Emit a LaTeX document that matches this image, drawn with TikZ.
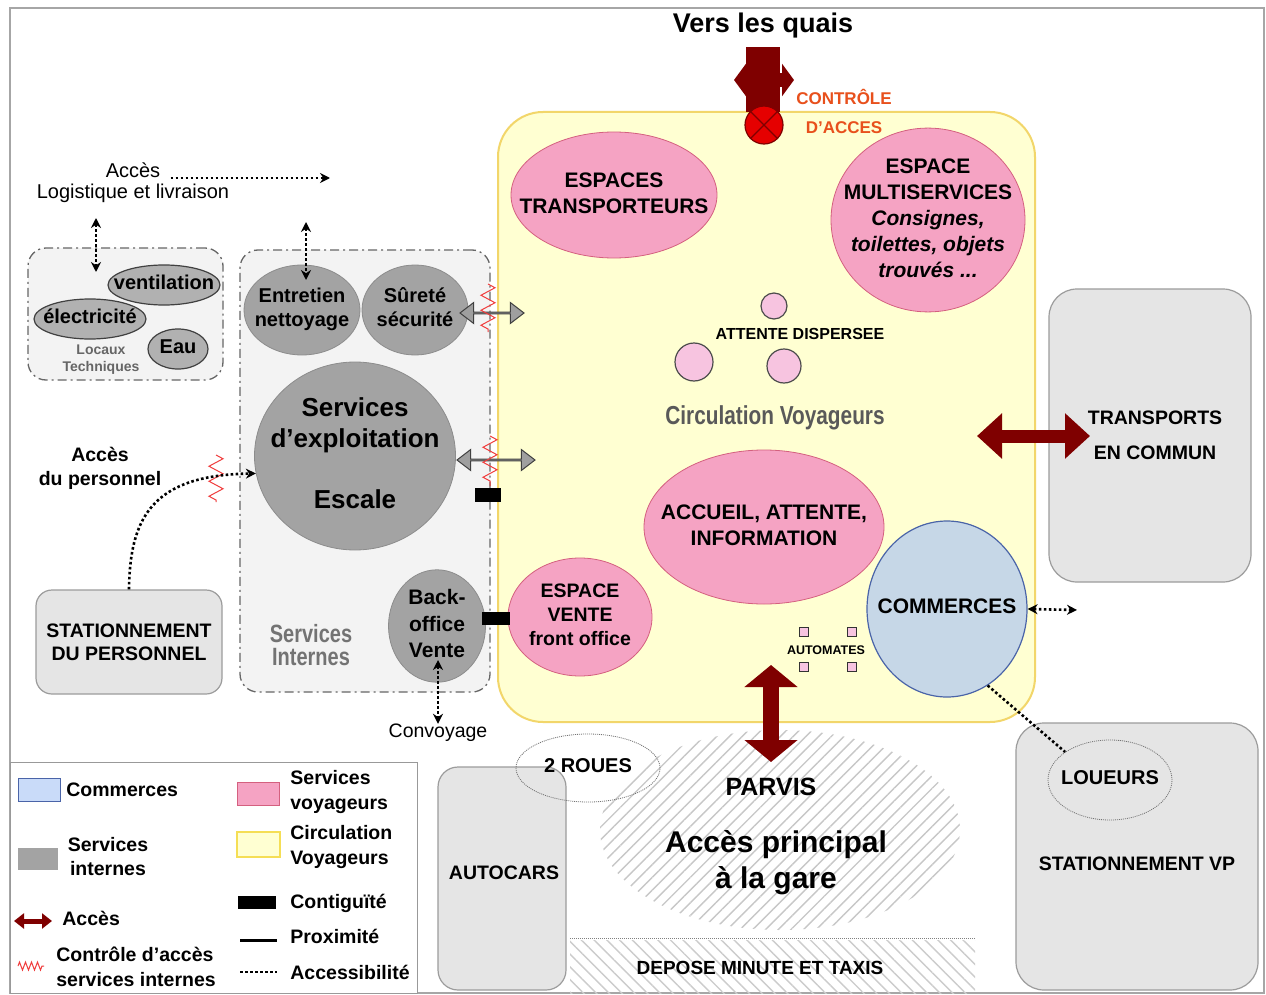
\documentclass[tikz,border=0pt]{standalone}
\usepackage{fontspec}
\setmainfont{Liberation Sans}
\newfontfamily\narrowfont[FakeStretch=0.8]{Liberation Sans}
\usetikzlibrary{shapes.geometric,shapes.arrows,arrows.meta,decorations.pathmorphing,patterns.meta}
\definecolor{voyfill}{HTML}{F5A3C3}
\definecolor{voydraw}{HTML}{D4607F}
\definecolor{circfill}{HTML}{FFFFD2}
\definecolor{circdraw}{HTML}{F2D66A}
\definecolor{intfill}{HTML}{A3A3A3}
\definecolor{intbg}{HTML}{F3F3F3}
\definecolor{extfill}{HTML}{E5E5E5}
\definecolor{extdraw}{HTML}{9C9C9C}
\definecolor{comfill}{HTML}{C6D7E7}
\definecolor{comdraw}{HTML}{4A64A8}
\definecolor{comleg}{HTML}{C9DBF9}
\definecolor{accred}{HTML}{7F0000}
\definecolor{ctrlred}{HTML}{F03C3C}
\definecolor{orangetxt}{HTML}{E8501C}
\definecolor{attfill}{HTML}{F7C4E0}
\newcommand{\fsz}[2]{\fontsize{#1}{#2}\selectfont}
\newcommand{\zbox}[1]{\makebox[0pt]{\begin{tabular}{@{}c@{}}#1\end{tabular}}}
\tikzstyle{lbl}=[inner sep=0pt, align=center, font=\bfseries\fsz{19.5}{24}]
\tikzstyle{legtxt}=[inner sep=0pt, anchor=west, align=left, font=\bfseries\fsz{19.5}{24.5}]
\tikzstyle{voy}=[ellipse, draw=voydraw, fill=voyfill, inner sep=0pt, font=\bfseries\fsz{21}{26}]
\tikzstyle{int}=[ellipse, draw=black!45, fill=intfill, inner sep=0pt, font=\bfseries\fsz{20}{24}]
\tikzstyle{tech}=[ellipse, draw=black!75, fill=intfill!85, line width=1.2pt, inner sep=0pt, font=\bfseries\fsz{20}{24}]
\tikzstyle{com}=[ellipse, draw=comdraw, fill=comfill, line width=1.2pt, inner sep=0pt, font=\bfseries\fsz{21}{24}]
\tikzstyle{ext}=[rectangle, rounded corners=28pt, draw=extdraw, fill=extfill, line width=1.2pt, align=center, font=\bfseries\fsz{19.5}{23}]
\tikzstyle{zone}=[rectangle, rounded corners=18pt, draw=black!60, fill=intbg, line width=1.3pt, dash pattern=on 9pt off 4pt on 2pt off 4pt]
\tikzstyle{circ}=[rectangle, rounded corners=45pt, draw=circdraw, fill=circfill, line width=2pt]
\tikzstyle{dotell}=[ellipse, draw=black!55, line width=0.8pt, dash pattern=on 1pt off 1pt, inner sep=0pt, font=\bfseries\fsz{20}{24}]
\tikzstyle{att}=[circle, draw=black!70, fill=attfill, line width=1.2pt, inner sep=0pt]
\tikzstyle{autom}=[rectangle, draw=black!80, fill=attfill, line width=1.2pt, minimum size=9pt, inner sep=0pt]
\tikzstyle{contig}=[rectangle, fill=black, inner sep=0pt]
\tikzstyle{gdbl}=[double arrow, draw=black!75, fill=gray!75, line width=1pt, inner sep=0pt, minimum width=21pt, double arrow head extend=6pt, double arrow tip angle=75]
\tikzstyle{acces}=[draw=accred, line width=16pt, {Triangle[length=22pt,width=52pt]}-{Triangle[length=22pt,width=52pt]}]
\tikzstyle{acc}=[line width=2.6pt, dash pattern=on 2.6pt off 2.4pt, >={Stealth[length=10pt,width=10pt]}]
\tikzstyle{ctrl}=[draw=ctrlred, line width=1pt, decorate, decoration={zigzag, segment length=15pt, amplitude=7pt}]
\begin{document}
\begin{tikzpicture}[x=1pt, y=-1pt, thick]
\useasboundingbox (0,0) rectangle (1266,995);
\fill[white] (0,0) rectangle (1266,995);
\draw[black!35, line width=1.5pt] (10,8) rectangle (1264,993);

\node[zone, minimum width=195pt, minimum height=132pt] (tech) at (125.5,314) {};
\node[zone, minimum width=250pt, minimum height=442pt] (sint) at (365,471) {};
\node[circ, minimum width=537pt, minimum height=610pt] (circ) at (766.5,417) {};

\node[ext, minimum width=202pt, minimum height=293pt] (tc) at (1150,435.5) {};
\node[lbl] (tct) at (1155,435.5) {TRANSPORTS\\[11pt]EN COMMUN};
\node[ext, minimum width=242pt, minimum height=267pt] (vp) at (1137,856.5) {};
\node[lbl] (vpt) at (1137,864) {STATIONNEMENT VP};
\node[ext, rounded corners=20pt, minimum width=128pt, minimum height=223pt] (car) at (502,878.5) {};
\node[lbl] (cart) at (504,873) {AUTOCARS};
\node[ext, rounded corners=16pt, minimum width=186pt, minimum height=104pt] (stp) at (129,642) {STATIONNEMENT\\DU PERSONNEL};

\node[ellipse, minimum width=360pt, minimum height=200pt, pattern={Lines[angle=45,distance=9pt,line width=1.4pt]}, pattern color=black!22] (parvis) at (780,830) {};
\node[lbl, font=\bfseries\fsz{25}{28}] (parvt) at (771,787) {PARVIS};
\node[lbl, font=\bfseries\fsz{30}{36}] (gare) at (776,863) {Accès principal\\à la gare};
\path[pattern={Lines[angle=-45,distance=9pt,line width=1.4pt]}, pattern color=black!20] (570,940) rectangle (975,993);
\draw[black!50, line width=0.8pt, dash pattern=on 1pt off 1pt] (570,938) -- (975,938);
\node[lbl, font=\bfseries\fsz{19}{22}] (dep) at (760,968) {DEPOSE MINUTE ET TAXIS};
\node[dotell, minimum width=144pt, minimum height=68pt] (roues) at (588,768) {\zbox{2 ROUES}};
\node[dotell, minimum width=124pt, minimum height=80pt] (loueurs) at (1110,780) {\zbox{LOUEURS}};

\node[tech, minimum width=112pt, minimum height=40pt] (vent) at (164,285) {\zbox{ventilation}};
\node[tech, minimum width=112pt, minimum height=40pt] (elec) at (90,319) {\zbox{électricité}};
\node[tech, minimum width=60pt, minimum height=40pt] (eau) at (178,349) {\zbox{Eau}};
\node[lbl, text=black!60, font=\bfseries\fsz{14}{17}] (loc) at (101,360) {Locaux\\Techniques};

\node[int, minimum width=116pt, minimum height=90pt] (entr) at (302,310) {\zbox{Entretien\\nettoyage}};
\node[int, minimum width=106pt, minimum height=90pt] (sur) at (415,310) {\zbox{Sûreté\\sécurité}};
\node[int, minimum width=201pt, minimum height=188pt, font=\bfseries\fsz{26}{31}] (esc) at (355,456) {\zbox{Services\\d’exploitation\\[30pt]Escale}};
\node[int, minimum width=97pt, minimum height=100pt, font=\bfseries\fsz{21}{26.5}] (bo) at (437,626) {\zbox{Back-\\office\\Vente}};
\node[lbl, text=black!55, font=\narrowfont\bfseries\fsz{25}{23}] (sintt) at (311,645) {Services\\Internes};

\node[voy, minimum width=206pt, minimum height=126pt] (transp) at (614,195) {\zbox{ESPACES\\TRANSPORTEURS}};
\node[voy, minimum width=194pt, minimum height=180pt] (multi) at (928,220) {\zbox{ESPACE\\MULTISERVICES\\\textit{Consignes,}\\\textit{toilettes, objets}\\\textit{trouvés ...}}};
\node[voy, minimum width=240pt, minimum height=154pt] (accueil) at (764,527) {\zbox{ACCUEIL, ATTENTE,\\INFORMATION}};
\node[voy, minimum width=144pt, minimum height=118pt, font=\bfseries\fsz{19.5}{24}] (vente) at (580,617) {\zbox{ESPACE\\VENTE\\front office}};
\node[com, minimum width=160pt, minimum height=176pt] (com) at (947,609) {\zbox{COMMERCES}};

\node[att, minimum size=26pt] (a1) at (774,306) {};
\node[att, minimum size=38pt] (a2) at (694,362) {};
\node[att, minimum size=34pt] (a3) at (784,366) {};
\node[lbl, font=\bfseries\fsz{16}{18}] (att) at (800,334) {ATTENTE DISPERSEE};
\node[lbl, text=black!65, font=\narrowfont\bfseries\fsz{26}{28}] (cv) at (775,418) {Circulation Voyageurs};
\foreach \x in {804,852}
  \foreach \y in {632,667}
    \node[autom] at (\x,\y) {};
\node[lbl, font=\bfseries\fsz{12.5}{14}] (auto) at (826,650) {AUTOMATES};

\node[lbl, font=\bfseries\fsz{27}{30}] (quais) at (763,26) {Vers les quais};
\fill[accred] (746,47) rectangle (780,112);
\coordinate (q1) at (734,80);
\coordinate (q2) at (794,80);
\draw[accred, line width=14pt, {Triangle[length=12pt,width=32pt]}-{Triangle[length=12pt,width=32pt]}] (q1) -- (q2);
\node[circle, fill=red!90!black, draw=accred, line width=1.2pt, minimum size=38pt] (ctl) at (764,125) {};
\draw[accred, line width=1.2pt] (ctl.45) -- (ctl.225) (ctl.135) -- (ctl.-45);
\node[lbl, text=orangetxt, font=\bfseries\fsz{17}{20}] (ctl1) at (844,97) {CONTRÔLE};
\node[lbl, text=orangetxt, font=\bfseries\fsz{17}{20}] (ctl2) at (844,128) {D’ACCES};

\coordinate (pa) at (771,665);
\coordinate (pb) at (771,762);
\draw[acces] (pa) -- (pb);
\coordinate (ta) at (977,436);
\coordinate (tb) at (1090,436);
\draw[acces, line width=13pt, {Triangle[length=25pt,width=44pt]}-{Triangle[length=25pt,width=44pt]}] (ta) -- (tb);

\node[gdbl, minimum height=64pt] (g1) at (492,313) {};
\node[gdbl, minimum height=78pt] (g2) at (496,460) {};
\draw[ctrl] (488,284) -- (488,332);
\draw[ctrl] (490,436) -- (490,486);
\draw[ctrl] (216,455) -- (216,502);
\node[contig, minimum width=26pt, minimum height=14pt] (c1) at (488,495) {};
\node[contig, minimum width=28pt, minimum height=13pt] (c2) at (496,618) {};

\node[lbl, font=\fsz{20}{24}] (acl) at (133,170) {Accès};
\node[lbl, font=\fsz{20}{24}] (log) at (133,193) {Logistique et livraison};
\coordinate (lg) at (330,178);
\draw[acc, ->] ([xshift=10pt]acl.east |- lg) -- (lg);
\coordinate (t1) at (96,218);
\coordinate (t2) at (96,272);
\draw[acc, <->] (t1) -- (t2);
\coordinate (e1) at (306,222);
\coordinate (e2) at (306,280);
\draw[acc, <->] (e1) -- (e2);
\node[lbl, font=\fsz{19.5}{22}] (conv) at (438,733) {Convoyage};
\coordinate (cv1) at (438,660);
\draw[acc, <->] (cv1) -- (conv.north);
\node[lbl] (pers) at (100,468) {Accès\\du personnel};
\draw[acc, ->] (stp.north) .. controls (130,520) and (150,475) .. (esc.190);
\coordinate (cm) at (1077,610);
\draw[acc, <->] (com.east) -- (cm);
\draw[acc] (com.-62) -- (loueurs.148);

\draw[black!40, fill=white, line width=1pt] (10,762) rectangle (417,993);
\node[rectangle, draw=comdraw, fill=comleg, minimum width=42pt, minimum height=23pt] (k1) at (39,789.5) {};
\node[legtxt] (k1t) at (66,790) {Commerces};
\node[rectangle, fill=intfill, minimum width=40pt, minimum height=22pt] (k2) at (38,859) {};
\node[lbl] (k2t) at (108,857) {Services\\internes};
\coordinate (k3a) at (14,921);
\coordinate (k3b) at (52,921);
\draw[accred, line width=5pt, {Triangle[length=10pt,width=15pt]}-{Triangle[length=10pt,width=15pt]}] (k3a) -- (k3b);
\node[legtxt] (k3t) at (62,918) {Accès};
\draw[ctrl, decoration={zigzag, segment length=6pt, amplitude=4pt}] (18,966) -- (44,966);
\node[legtxt] (k4t) at (56,967) {Contrôle d’accès\\services internes};
\node[rectangle, draw=voydraw, fill=voyfill, minimum width=42pt, minimum height=23pt] (k5) at (258,793.5) {};
\node[legtxt] (k5t) at (290,792) {Services\\voyageurs};
\node[rectangle, draw=circdraw!80!yellow, fill=circfill, line width=1.2pt, minimum width=43pt, minimum height=25pt] (k6) at (258.5,844.5) {};
\node[legtxt] (k6t) at (290,847) {Circulation\\Voyageurs};
\node[contig, minimum width=38pt, minimum height=13pt] (k7) at (257,902.5) {};
\node[legtxt] (k7t) at (290,903) {Contiguïté};
\coordinate (k8a) at (240,940);
\coordinate (k8b) at (277,940);
\draw[line width=3pt] (k8a) -- (k8b);
\node[legtxt] (k8t) at (290,936) {Proximité};
\coordinate (k9a) at (240,972);
\coordinate (k9b) at (277,972);
\draw[acc] (k9a) -- (k9b);
\node[legtxt] (k9t) at (290,972) {Accessibilité};
\end{tikzpicture}
\end{document}
